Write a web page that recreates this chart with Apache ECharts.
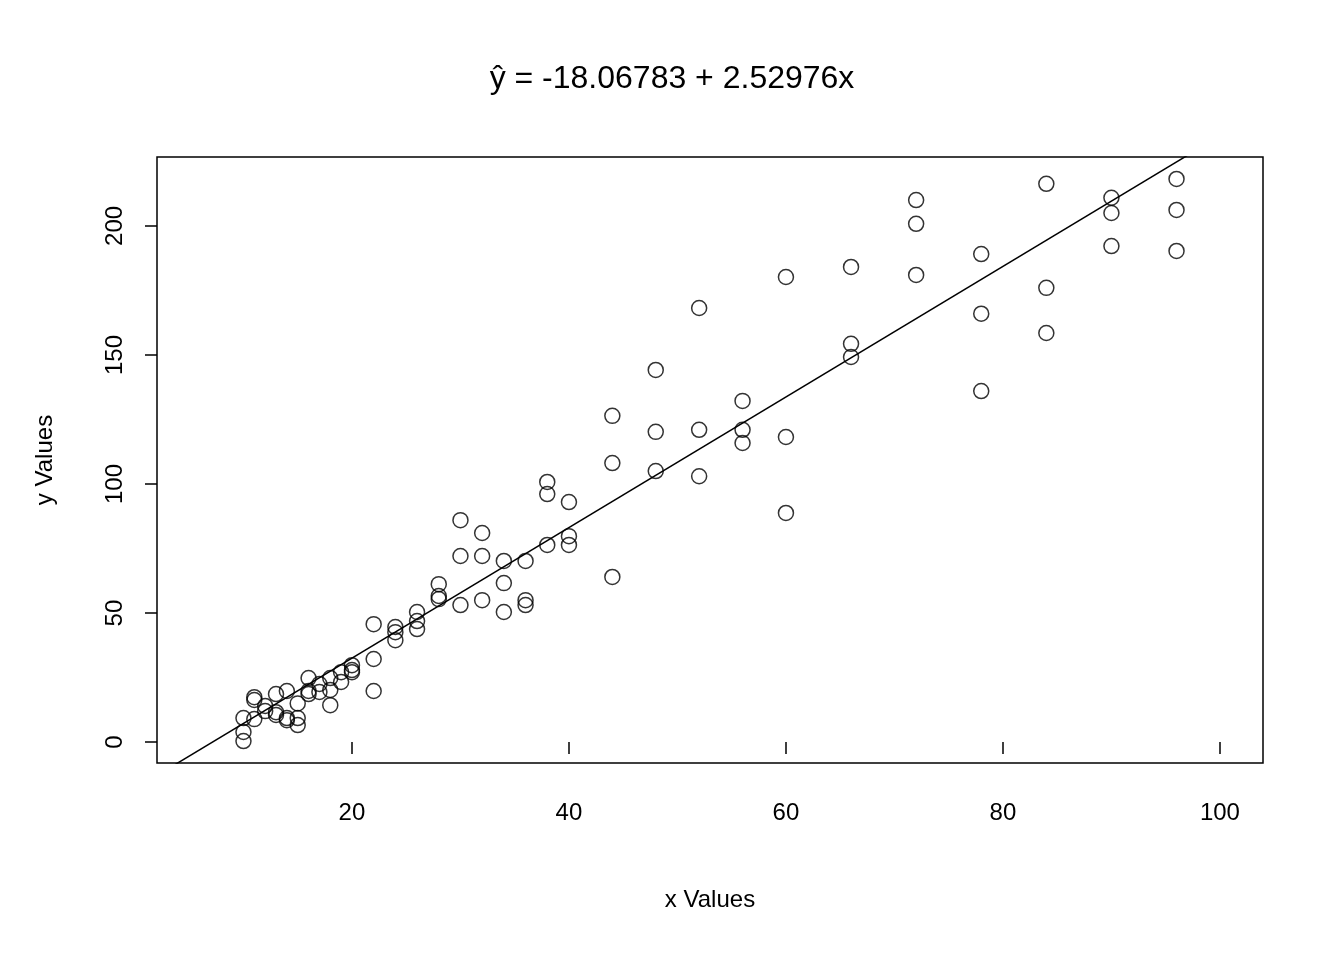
<!DOCTYPE html>
<html><head><meta charset="utf-8">
<script src="https://cdn.jsdelivr.net/npm/echarts@6/dist/echarts.min.js"></script>
<style>html,body{margin:0;background:#fff}#c{width:1344px;height:960px}</style>
</head><body><div id="c"></div>
<script>
const xVals=[10,10,10,11,11,11,12,12,13,13,13,14,14,14,15,15,15,16,16,16,17,17,18,18,18,19,19,20,20,20,22,22,22,24,24,24,26,26,26,28,28,28,30,30,30,32,32,32,34,34,34,36,36,36,38,38,38,40,40,40,44,44,44,48,48,48,52,52,52,56,56,56,60,60,60,66,66,66,72,72,72,78,78,78,84,84,84,90,90,90,96,96,96];
const yVals=[9.3,3.9,0.4,17.4,16.3,8.9,14,12,18.6,11.6,10.5,19.8,9.3,8.5,15,9.3,6.6,24.8,19.8,18.6,22.5,19.4,24.8,20.2,14.3,27.1,23.3,29.8,27.9,27.1,45.7,32.2,19.8,44.6,42.6,39.5,50.4,46.9,43.8,61.2,56.6,55.4,86,72.1,53.1,81,72.1,55,70.2,61.6,50.4,70.2,55,53.1,100.8,96.1,76.4,93,79.8,76.4,126.4,108.1,64,144.2,120.2,105,168.2,121,103,132.2,121,115.9,180.2,118.2,88.8,184.1,154.3,149.2,210,200.8,181,189.1,166,136,216.3,176,158.5,210.9,205,192.2,218.2,206.2,190.3];
const intercept=-18.06783, slope=2.52976;
const xMin=2.03,xMax=103.97,yMin=-8.1,yMax=226.7;
const xTicks=[20,40,60,80,100], yTicks=[0,50,100,150,200];
const pts=xVals.map((x,i)=>[x,yVals[i]]);
const font='Liberation Sans';
const ch=echarts.init(document.getElementById('c'));
ch.setOption({
 animation:false,
 title:{text:'ŷ = -18.06783 + 2.52976x',left:'center',top:58,textStyle:{fontFamily:font,fontSize:32,fontWeight:'normal',color:'#000'}},
 grid:{left:157,right:81,top:157,bottom:197,show:true,borderColor:'#000',borderWidth:1.5,backgroundColor:'transparent'},
 xAxis:{type:'value',min:xMin,max:xMax,
  customValues:xTicks,
  axisLine:{show:false},splitLine:{show:false},
  axisTick:{show:true,length:12,lineStyle:{color:'#000',width:1.5},customValues:xTicks},
  axisLabel:{margin:38,fontFamily:font,fontSize:24,color:'#000',customValues:xTicks,showMinLabel:true,showMaxLabel:true},
  name:'x Values',nameLocation:'middle',nameGap:125,nameTextStyle:{fontFamily:font,fontSize:24,color:'#000'}},
 yAxis:{type:'value',min:yMin,max:yMax,
  axisLine:{show:false},splitLine:{show:false},
  axisTick:{show:true,length:12,lineStyle:{color:'#000',width:1.5},customValues:yTicks},
  axisLabel:{margin:30,rotate:90,fontFamily:font,fontSize:24,color:'#000',customValues:yTicks},
  name:'y Values',nameLocation:'middle',nameGap:100,nameTextStyle:{fontFamily:font,fontSize:24,color:'#000'}},
 series:[
  {type:'scatter',data:pts,symbol:'circle',symbolSize:15,itemStyle:{color:'transparent',borderColor:'#000',borderWidth:1.5}},
  {type:'line',clip:true,symbol:'none',data:[[xMin,intercept+slope*xMin],[xMax,intercept+slope*xMax]],lineStyle:{color:'#000',width:1.5}}
 ]
});
</script></body></html>
